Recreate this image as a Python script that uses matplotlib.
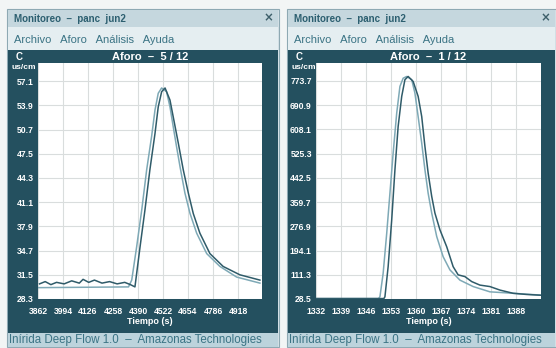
"""Two 'Monitoreo' windows with tracer-conductivity curves (Aforo 5/12 and 1/12)."""

import matplotlib

matplotlib.use("Agg")
import matplotlib.pyplot as plt
from matplotlib.patches import Rectangle

W, H = 556, 348

# --- Aforo 5/12 (left window) ---
L_XTICKS = [3862, 3994, 4126, 4258, 4390, 4522, 4654, 4786, 4918]
L_YTICKS = [28.3, 31.5, 34.7, 37.9, 41.1, 44.3, 47.5, 50.7, 53.9, 57.1]
L_LIGHT_X = [3862, 4340, 4357, 4383, 4410, 4436, 4462, 4480, 4497, 4515,
             4541, 4559, 4576, 4594, 4612, 4638, 4665, 4700, 4753, 4823,
             4911, 5034]
L_LIGHT_Y = [29.8, 29.9, 30.8, 35.2, 40.1, 45.4, 49.8, 53.3, 55.5, 56.2,
             55.7, 53.7, 51.1, 48.4, 45.8, 42.3, 39.6, 37.0, 34.3, 32.6,
             31.2, 30.4]
L_DARK_X = [3870, 3900, 3930, 3960, 4000, 4040, 4080, 4100, 4130, 4160,
            4200, 4240, 4280, 4320, 4350, 4374, 4401, 4427, 4453, 4480,
            4497, 4515, 4533, 4559, 4576, 4603, 4629, 4656, 4682, 4717,
            4770, 4840, 4928, 5034]
L_DARK_Y = [30.3, 30.6, 30.2, 30.5, 30.3, 30.7, 30.4, 30.9, 30.5, 30.8,
            30.4, 30.6, 30.3, 30.5, 30.2, 29.9, 35.2, 40.1, 45.4, 50.2,
            53.7, 55.7, 56.2, 54.6, 52.4, 48.9, 45.4, 42.3, 39.6, 37.0,
            34.3, 32.6, 31.5, 30.8]

# --- Aforo 1/12 (right window) ---
R_XTICKS = [1332, 1339, 1346, 1353, 1360, 1367, 1374, 1381, 1388]
R_YTICKS = [28.5, 111.3, 194.1, 276.9, 359.7, 442.5, 525.3, 608.1, 690.9, 773.7]
R_LIGHT_X = [1332, 1349.5, 1349.9, 1350.8, 1351.8, 1352.7, 1353.6, 1354.6,
             1355.5, 1356.4, 1357.4, 1358.8, 1359.7, 1360.6, 1361.6, 1362.5,
             1363.4, 1364.4, 1365.8, 1367.6, 1369.5, 1372.3, 1376.0, 1380.7,
             1387.2, 1394.7]
R_LIGHT_Y = [30, 30, 36, 116, 253, 390, 527, 664, 755, 783, 789, 778, 732,
             652, 561, 470, 390, 322, 242, 173, 128, 93, 71, 53, 48, 42]
R_DARK_X = [1332, 1351.0, 1351.3, 1352.2, 1353.2, 1354.1, 1355.0, 1356.0,
            1356.9, 1357.8, 1359.2, 1360.6, 1361.6, 1362.5, 1363.4, 1364.4,
            1365.3, 1366.7, 1368.6, 1370.4, 1371.8, 1373.7, 1375.6, 1377.9,
            1380.7, 1383.5, 1387.2, 1391.0, 1395.6]
R_DARK_Y = [30, 30, 36, 139, 299, 470, 618, 721, 778, 789, 772, 721, 652,
            550, 459, 379, 322, 265, 207, 139, 111, 105, 88, 76, 71, 59, 48,
            44, 41]

TEAL = "#2c5f70"
PANEL = "#24505f"
LIGHT = "#7ea9b6"
DARK = "#2f5b69"
FONT = "Liberation Sans"

fig = plt.figure(figsize=(W / 100, H / 100), dpi=100)
fig.patch.set_facecolor("#f2f5f5")
bg = fig.add_axes([0, 0, 1, 1])
bg.set_xlim(0, W)
bg.set_ylim(H, 0)
bg.axis("off")


def rect(x0, y0, x1, y1, fc, ec="none", lw=0):
    bg.add_patch(Rectangle((x0, y0), x1 - x0, y1 - y0, facecolor=fc,
                           edgecolor=ec, lw=lw))


def window(x0, x1, px0, px1, header):
    rect(x0, 9, x1, 347, "#d6e3e8", ec="#8ea9b3", lw=0.8)
    rect(x0 + 1, 10, x1 - 1, 27, "#c5d7de")
    bg.text(x0 + 7, 18.5, "Monitoreo  –  panc  jun2", color=TEAL,
            weight="bold", size=7, va="center", family=FONT)
    bg.text(x1 - 11, 17.5, "×", color="#3d5f6a", weight="bold", size=8.5,
            va="center", ha="center")
    rect(x0 + 1, 27, x1 - 1, 50, "#e5eef1")
    bg.text(x0 + 7, 40, "Archivo   Aforo   Análisis   Ayuda", color="#3a7384",
            size=8, va="center", family=FONT)
    rect(x0 + 1, 50, x1 - 1, 333, PANEL)
    bg.text((px0 + px1) / 2, 57, header, color="white", weight="bold",
            size=8, ha="center", va="center", family=FONT)
    bg.text(x0 + 9, 56.5, "C", color="white", weight="bold", size=7,
            va="center", family=FONT)
    bg.text(x0 + 5, 67.5, "us/cm", color="white", weight="bold", size=6,
            va="center", family=FONT)
    bg.text((px0 + px1) / 2, 322, "Tiempo (s)", color="white", weight="bold",
            size=6.5, ha="center", va="center", family=FONT)
    rect(x0 + 1, 333, x1 - 1, 347, "#bcd3dc")
    bg.text(x0 + 2, 340.5, "Inírida Deep Flow 1.0  –  Amazonas Technologies",
            color="#3a7384", size=8.3, va="center", family=FONT)


def chart(px0, py0, px1, py1, xticks, yticks, xlim, ylim, series, fmt):
    ax = fig.add_axes([px0 / W, 1 - py1 / H, (px1 - px0) / W, (py1 - py0) / H])
    ax.set_facecolor("white")
    for xs, ys, c in series:
        ax.plot(xs, ys, color=c, lw=1.1)
    ax.set_xlim(*xlim)
    ax.set_ylim(*ylim)
    ax.set_xticks(xticks)
    ax.set_yticks(yticks)
    ax.set_xticklabels([str(t) for t in xticks])
    ax.set_yticklabels([fmt.format(t) for t in yticks])
    for lab in ax.get_xticklabels() + ax.get_yticklabels():
        lab.set_fontweight("bold")
        lab.set_family(FONT)
    ax.tick_params(length=0, labelcolor="white", labelsize=6.2)
    ax.tick_params(axis="x", pad=6)
    ax.tick_params(axis="y", pad=3)
    ax.grid(color="#d9dddd", lw=0.8)
    for s in ax.spines.values():
        s.set_visible(False)
    return ax


window(7, 279, 38, 262, "Aforo  –  5 / 12")
window(287, 556, 316, 541, "Aforo  –  1 / 12")

chart(38, 63, 262, 299, L_XTICKS, L_YTICKS, (3862, 5045), (28.3, 59.5),
      [(L_LIGHT_X, L_LIGHT_Y, LIGHT), (L_DARK_X, L_DARK_Y, DARK)], "{:.1f}")
chart(316, 63, 541, 299, R_XTICKS, R_YTICKS, (1332, 1395), (28.5, 835),
      [(R_LIGHT_X, R_LIGHT_Y, LIGHT), (R_DARK_X, R_DARK_Y, DARK)], "{:.1f}")

fig.savefig("out.png", dpi=100, facecolor=fig.get_facecolor())
